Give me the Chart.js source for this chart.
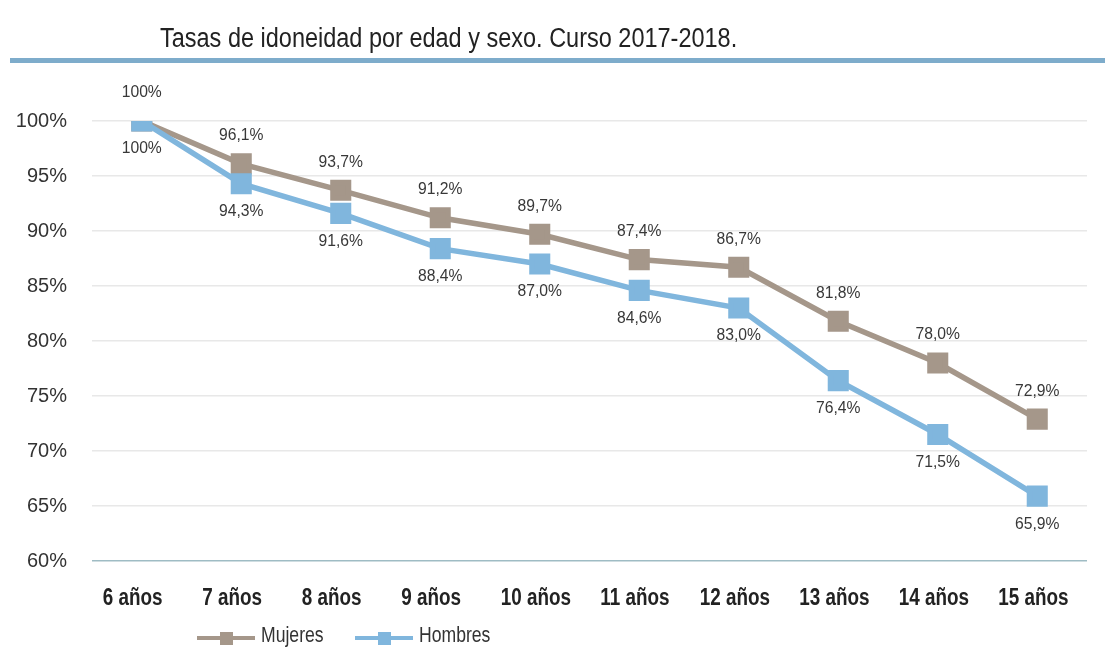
<!DOCTYPE html>
<html>
<head>
<meta charset="utf-8">
<script src="https://cdn.jsdelivr.net/npm/chart.js@4/dist/chart.umd.min.js"></script>
<style>
  html, body { margin: 0; padding: 0; background: #fff; }
  #wrap { width: 1105px; height: 652px; }
</style>
</head>
<body>
<div id="wrap"><canvas id="myChart" width="1105" height="652"></canvas></div>
<script>
var edades = ['6 años', '7 años', '8 años', '9 años', '10 años', '11 años', '12 años', '13 años', '14 años', '15 años'];
var mujeres = [100, 96.1, 93.7, 91.2, 89.7, 87.4, 86.7, 81.8, 78.0, 72.9];
var hombres = [100, 94.3, 91.6, 88.4, 87.0, 84.6, 83.0, 76.4, 71.5, 65.9];
var etiquetasMujeres = ['100%', '96,1%', '93,7%', '91,2%', '89,7%', '87,4%', '86,7%', '81,8%', '78,0%', '72,9%'];
var etiquetasHombres = ['100%', '94,3%', '91,6%', '88,4%', '87,0%', '84,6%', '83,0%', '76,4%', '71,5%', '65,9%'];
var titulo = 'Tasas de idoneidad por edad y sexo. Curso 2017-2018.';

var SANS = '"Liberation Sans", Arial, sans-serif';
var colMuj = '#a5978a';
var colHom = '#80b6dd';

var ctx = document.getElementById('myChart').getContext('2d');

// condensed text: squeeze horizontally around the anchor point
function textoEstrecho(c, txt, x, y, sx) {
	c.save();
	c.translate(x, y);
	c.scale(sx, 1);
	c.fillText(txt, 0, 0);
	c.restore();
}

// title and blue rule on top
var cabecera = {
	id: 'cabecera',
	beforeDraw: function (chart) {
		var c = chart.ctx;
		c.save();
		c.fillStyle = '#fff';
		c.fillRect(0, 0, chart.width, chart.height);
		c.fillStyle = '#222';
		c.font = '27px ' + SANS;
		c.textBaseline = 'alphabetic';
		textoEstrecho(c, titulo, 160, 47, 0.87);
		c.fillStyle = '#7eaccb';
		c.fillRect(10, 58, chart.width - 10, 5);
		c.restore();
	}
};

// category names under the axis, bold and condensed
var categorias = {
	id: 'categorias',
	afterDraw: function (chart) {
		var c = chart.ctx;
		var xs = chart.scales.x;
		c.save();
		c.fillStyle = '#222';
		c.font = 'bold 23px ' + SANS;
		c.textAlign = 'left';
		c.textBaseline = 'alphabetic';
		chart.data.labels.forEach(function (lab, i) {
			textoEstrecho(c, lab, xs.getPixelForValue(i) - 39, 605, 0.82);
		});
		c.restore();
	}
};

// value labels: women above, men below
var valores = {
	id: 'valores',
	afterDatasetsDraw: function (chart) {
		var c = chart.ctx;
		c.save();
		c.font = '16px ' + SANS;
		c.fillStyle = '#383838';
		c.textAlign = 'center';
		c.textBaseline = 'middle';
		chart.data.datasets.forEach(function (ds, i) {
			var meta = chart.getDatasetMeta(i);
			meta.data.forEach(function (pt, j) {
				var dy = ds.label === 'Mujeres' ? -28 : 28;
				textoEstrecho(c, ds.etiquetas[j], pt.x, pt.y + dy, 0.98);
			});
		});
		c.restore();
	}
};

// legend: line with square marker, then the name
var leyenda = {
	id: 'leyenda',
	afterDraw: function (chart) {
		var c = chart.ctx;
		var y = 638;
		var items = [
			{ x: 197, txt: 'Mujeres', col: colMuj },
			{ x: 355, txt: 'Hombres', col: colHom }
		];
		c.save();
		items.forEach(function (it) {
			c.strokeStyle = it.col;
			c.lineWidth = 4;
			c.beginPath();
			c.moveTo(it.x, y);
			c.lineTo(it.x + 58, y);
			c.stroke();
			c.fillStyle = it.col;
			c.fillRect(it.x + 23, y - 6, 13, 13);
			c.fillStyle = '#333';
			c.font = '22px ' + SANS;
			c.textBaseline = 'middle';
			textoEstrecho(c, it.txt, it.x + 64, y - 2, 0.8);
		});
		c.restore();
	}
};

var chart = new Chart(ctx, {
	type: 'line',
	data: {
		labels: edades,
		datasets: [{
			label: 'Mujeres',
			data: mujeres,
			etiquetas: etiquetasMujeres,
			borderColor: colMuj,
			backgroundColor: colMuj,
			borderWidth: 5.5,
			pointStyle: 'rect',
			pointRadius: 11,
			pointHoverRadius: 11,
			tension: 0,
			order: 1
		}, {
			label: 'Hombres',
			data: hombres,
			etiquetas: etiquetasHombres,
			borderColor: colHom,
			backgroundColor: colHom,
			borderWidth: 5.5,
			pointStyle: 'rect',
			pointRadius: 11,
			pointHoverRadius: 11,
			tension: 0,
			order: 0
		}]
	},
	options: {
		responsive: false,
		animation: false,
		layout: { padding: { top: 121, right: 18, bottom: 0, left: 0 } },
		plugins: {
			legend: { display: false },
			tooltip: { enabled: false }
		},
		scales: {
			x: {
				offset: true,
				grid: { display: false, drawTicks: false },
				border: { display: false },
				ticks: { display: false },
				afterFit: function (s) { s.height = 91; }
			},
			y: {
				min: 60,
				max: 100,
				grid: {
					drawTicks: false,
					lineWidth: 1.5,
					color: function (c) { return c.tick.value === 60 ? '#9fbcc4' : '#e8e8e8'; }
				},
				border: { display: false },
				ticks: {
					stepSize: 5,
					padding: 25,
					color: '#333',
					font: { family: SANS, size: 20 },
					callback: function (v) { return v + '%'; }
				},
				afterFit: function (s) { s.width = 92; }
			}
		}
	},
	plugins: [cabecera, categorias, valores, leyenda]
});
</script>
</body>
</html>
